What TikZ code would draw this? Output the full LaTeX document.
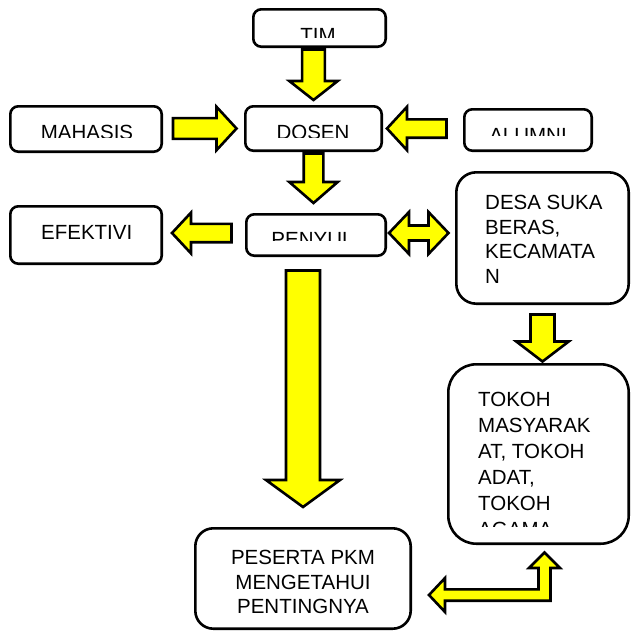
\documentclass[tikz,border=0pt]{standalone}
\usepackage{fontspec}
\setmainfont{Liberation Sans}
\usepackage{tikz}
\usetikzlibrary{calc}
\definecolor{arrowyellow}{HTML}{FFFF00}

% block arrow: from, to, half shaft, half head, head length
\newcommand{\fatarrow}[5]{%
  \coordinate (fa-from) at #1;
  \coordinate (fa-to) at #2;
  \coordinate (fa-base) at ($(fa-to)!#5!(fa-from)$);
  \draw[blk] ($(fa-from)!#3!90:(fa-to)$) -- ($(fa-base)!#3!90:(fa-to)$)
    -- ($(fa-base)!#4!90:(fa-to)$) -- (fa-to) -- ($(fa-base)!#4!-90:(fa-to)$)
    -- ($(fa-base)!#3!-90:(fa-to)$) -- ($(fa-from)!#3!-90:(fa-to)$) -- cycle;}

% text cut off below a given line
\newcommand{\cuttext}[5][]{%
  \begin{scope}
    \clip (0,0) rectangle (632,#4);
    \node[lbl, #1] (#2) at #3 {#5};
  \end{scope}}

\begin{document}
\begin{tikzpicture}[x=1pt, y=-1pt,
  box/.style={rectangle, draw=black, fill=white, line width=2.6pt, rounded corners=8pt},
  blk/.style={draw=black, fill=arrowyellow, line width=2.6pt},
  lbl/.style={anchor=north, inner sep=0pt, font=\fontsize{20.5}{24.5}\selectfont}
]
  \useasboundingbox (0,0) rectangle (632,632);

  \node[box, minimum width=132.4pt, minimum height=37.4pt] (tim)      at (319.5,28)  {};
  \node[box, minimum width=151.4pt, minimum height=45.4pt] (mahasis)  at (86,129)    {};
  \node[box, minimum width=136.4pt, minimum height=44.4pt] (dosen)    at (313.5,128.5) {};
  \node[box, minimum width=127.4pt, minimum height=41.4pt] (alumni)   at (528,130)   {};
  \node[box, minimum width=151.4pt, minimum height=57.4pt] (efektivi) at (86,235)    {};
  \node[box, minimum width=139.4pt, minimum height=41.4pt] (penyul)   at (316,235)   {};
  \node[box, rounded corners=20pt, minimum width=172.4pt, minimum height=131.4pt] (desa)    at (542.5,238)   {};
  \node[box, rounded corners=28pt, minimum width=180.4pt, minimum height=179.4pt] (tokoh)   at (538.5,454)   {};
  \node[box, rounded corners=18pt, minimum width=215.4pt, minimum height=100.4pt] (peserta) at (303,578.5)   {};

  % arrows
  \fatarrow{($(tim.south -| dosen.north)+(0,1.5)$)}{($(dosen.north)+(0,-5)$)}{11.4pt}{24.2pt}{19pt}
  \fatarrow{($(dosen.south)+(0,1.5)$)}{($(dosen.south |- penyul.north)+(0,-10)$)}{9.8pt}{24.2pt}{21pt}
  \fatarrow{($(mahasis.east |- dosen.west)+(10,0)$)}{($(dosen.west)+(-7.5,0)$)}{10.4pt}{21.7pt}{20pt}
  \fatarrow{($(alumni.west |- dosen.east)+(-16.5,0)$)}{($(dosen.east)+(4,0)$)}{9.2pt}{21.7pt}{20pt}
  \fatarrow{($(penyul.west)+(-13.5,-2)$)}{($(efektivi.east |- penyul.west)+(9,-2)$)}{9.2pt}{20.4pt}{19pt}
  \fatarrow{($(desa.south)+(0,9.5)$)}{($(desa.south |- tokoh.north)+(0,-1.5)$)}{12pt}{26.2pt}{20pt}
  \fatarrow{($(penyul.south -| peserta.north)+(0,13.5)$)}{($(peserta.north)+(0,-20)$)}{17pt}{37pt}{27pt}

  % penyuluhan <-> desa
  \draw[blk] ($(penyul.east)+(2,-2)$) -- ++(20,-21) -- ++(0,13.5) -- ++(19.5,0)
    -- ++(0,-13.5) -- ++(20,21) -- ++(-20,21) -- ++(0,-13.5) -- ++(-19.5,0)
    -- ++(0,13.5) -- cycle;

  % peserta <-> tokoh
  \draw[blk] ($(peserta.east)+(17,16.5)$) -- ++(16,-17) -- ++(0,11.3) -- ++(93.5,0)
    -- ++(0,-21.3) -- ++(-9.5,0) -- ++(15.5,-15.5) -- ++(15.5,15.5) -- ++(-9.5,0)
    -- ++(0,32.7) -- ++(-105.5,0) -- ++(0,11.3) -- cycle;

  % texts
  \cuttext{timtext}{(318,28)}{37}{TIM}
  \cuttext{mahasistext}{(87,125)}{137.3}{MAHASIS}
  \cuttext{dosentext}{(313,125)}{137}{DOSEN}
  \cuttext{alumnitext}{(528,128.3)}{135}{ALUMNI}
  \cuttext{penyultext}{(312.5,231.7)}{240}{PENYUL}
  \node[lbl] (efektivitext) at (86.7,225) {EFEKTIVI};
  \node[lbl, anchor=north west, align=left] (desatext) at (485,195) {DESA SUKA\\BERAS,\\KECAMATA\\N};
  \cuttext[anchor=north west, align=left, font=\fontsize{20.5}{26}\selectfont]{tokohtext}{(478,391.7)}{526.7}{TOKOH\\MASYARAK\\AT, TOKOH\\ADAT,\\TOKOH\\AGAMA}
  \node[lbl, align=center] (pesertatext) at (303,550) {PESERTA PKM\\MENGETAHUI\\PENTINGNYA};
\end{tikzpicture}
\end{document}
